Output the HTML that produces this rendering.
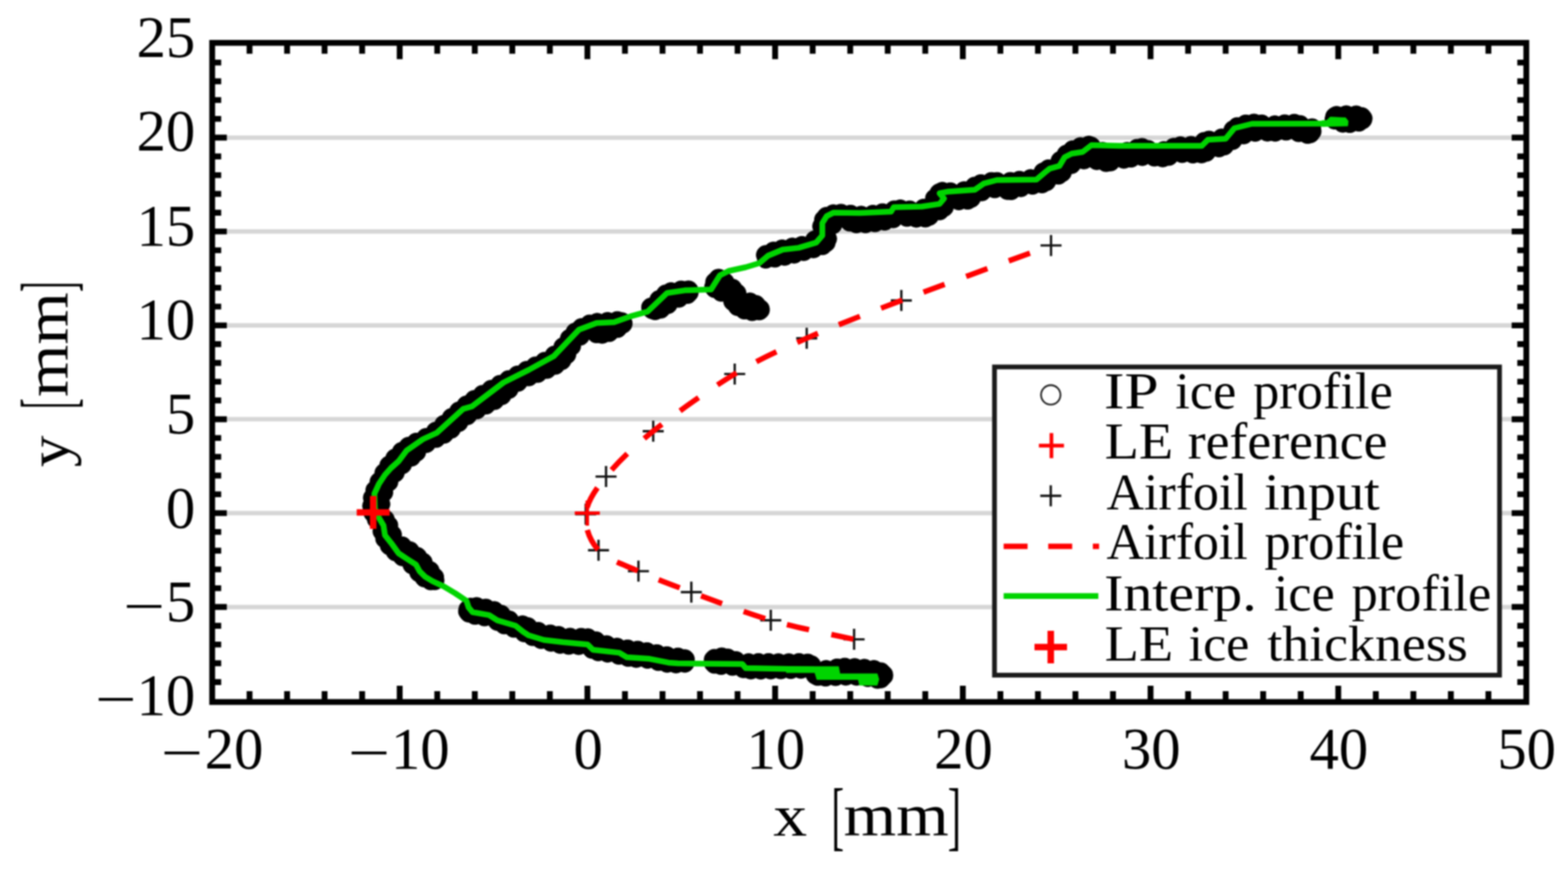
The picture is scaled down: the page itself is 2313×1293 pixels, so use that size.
<!DOCTYPE html><html><head><meta charset="utf-8"><title>Ice profile</title>
<style>html,body{margin:0;padding:0;background:#fff;overflow:hidden;width:2313px;height:1293px;}svg{display:block;filter:blur(0.9px);}text{font-family:"Liberation Serif","DejaVu Serif",serif;fill:#000;}</style></head><body>
<svg width="2313" height="1293" viewBox="0 0 2313 1293">
<rect width="2313" height="1293" fill="#fff"/>
<line x1="313.0" y1="202.9" x2="2251.5" y2="202.9" stroke="#d6d6d6" stroke-width="6.5"/>
<line x1="313.0" y1="341.3" x2="2251.5" y2="341.3" stroke="#d6d6d6" stroke-width="6.5"/>
<line x1="313.0" y1="479.7" x2="2251.5" y2="479.7" stroke="#d6d6d6" stroke-width="6.5"/>
<line x1="313.0" y1="618.1" x2="2251.5" y2="618.1" stroke="#d6d6d6" stroke-width="6.5"/>
<line x1="313.0" y1="756.5" x2="2251.5" y2="756.5" stroke="#d6d6d6" stroke-width="6.5"/>
<line x1="313.0" y1="894.9" x2="2251.5" y2="894.9" stroke="#d6d6d6" stroke-width="6.5"/>
<path d="M651.6,865.1 A15.0,15.0 0 0 1 638.6,869.5 A15.0,15.0 0 0 1 625.3,865.6 A15.0,15.0 0 0 1 613.2,857.0 A15.0,15.0 0 0 1 604.3,845.9 A15.0,15.0 0 0 1 594.3,834.4 A15.0,15.0 0 0 1 581.4,827.0 A15.0,15.0 0 0 1 570.2,817.6 A15.0,15.0 0 0 1 560.8,806.1 A15.0,15.0 0 0 1 554.0,793.1 A15.0,15.0 0 0 1 550.7,778.7 A15.0,15.0 0 0 1 541.7,767.0 A15.0,15.0 0 0 1 537.0,753.5 A15.0,15.0 0 0 1 536.7,738.8 A15.0,15.0 0 0 1 539.6,724.4 A15.0,15.0 0 0 1 545.7,711.0 A15.0,15.0 0 0 1 552.8,697.9 A15.0,15.0 0 0 1 560.1,684.9 A15.0,15.0 0 0 1 569.1,673.1 A15.0,15.0 0 0 1 579.2,662.2 A15.0,15.0 0 0 1 590.1,652.2 A15.0,15.0 0 0 1 602.5,644.4 A15.0,15.0 0 0 1 616.3,638.6 A15.0,15.0 0 0 1 629.6,631.5 A15.0,15.0 0 0 1 641.5,622.2 A15.0,15.0 0 0 1 652.7,612.3 A15.0,15.0 0 0 1 663.7,602.2 A15.0,15.0 0 0 1 675.0,592.5 A15.0,15.0 0 0 1 686.9,583.6 A15.0,15.0 0 0 1 699.4,575.5 A15.0,15.0 0 0 1 712.2,567.9 A15.0,15.0 0 0 1 725.2,560.5 A15.0,15.0 0 0 1 738.2,553.2 A15.0,15.0 0 0 1 751.4,546.2 A15.0,15.0 0 0 1 764.7,539.4 A15.0,15.0 0 0 1 778.0,532.6 A15.0,15.0 0 0 1 791.4,526.0 A15.0,15.0 0 0 1 804.8,519.2 A15.0,15.0 0 0 1 816.9,510.0 A15.0,15.0 0 0 1 826.4,498.3 A15.0,15.0 0 0 1 835.2,486.3 A15.0,15.0 0 0 1 845.8,476.3 A15.0,15.0 0 0 1 858.8,469.5 A15.0,15.0 0 0 1 872.7,464.4 A15.0,15.0 0 0 1 887.5,463.4 A15.0,15.0 0 0 1 902.3,461.9 A15.0,15.0 0 0 1 917.1,460.7 A15.0,15.0 0 0 1 928.8,467.1 A15.0,15.0 0 0 1 932.2,480.5 A15.0,15.0 0 0 1 923.1,490.7 A15.0,15.0 0 0 1 910.1,497.8 A15.0,15.0 0 0 1 896.4,503.7 A15.0,15.0 0 0 1 882.9,505.3 A15.0,15.0 0 0 1 868.7,500.0 A15.0,15.0 0 0 1 856.6,509.3 A15.0,15.0 0 0 1 849.6,522.5 A15.0,15.0 0 0 1 841.9,535.2 A15.0,15.0 0 0 1 831.3,545.0 A15.0,15.0 0 0 1 818.3,552.1 A15.0,15.0 0 0 1 804.6,558.0 A15.0,15.0 0 0 1 790.8,563.9 A15.0,15.0 0 0 1 776.8,568.8 A15.0,15.0 0 0 1 764.1,577.2 A15.0,15.0 0 0 1 753.3,587.5 A15.0,15.0 0 0 1 741.8,596.8 A15.0,15.0 0 0 1 728.9,604.1 A15.0,15.0 0 0 1 715.5,610.7 A15.0,15.0 0 0 1 702.3,617.8 A15.0,15.0 0 0 1 689.9,626.4 A15.0,15.0 0 0 1 678.7,636.4 A15.0,15.0 0 0 1 667.5,646.2 A15.0,15.0 0 0 1 654.9,653.7 A15.0,15.0 0 0 1 641.3,659.8 A15.0,15.0 0 0 1 628.1,667.4 A15.0,15.0 0 0 1 619.4,679.4 A15.0,15.0 0 0 1 607.0,687.5 A15.0,15.0 0 0 1 596.5,698.4 A15.0,15.0 0 0 1 587.2,710.2 A15.0,15.0 0 0 1 579.3,723.1 A15.0,15.0 0 0 1 574.0,737.2 A15.0,15.0 0 0 1 571.8,752.4 A15.0,15.0 0 0 1 581.7,763.5 A15.0,15.0 0 0 1 586.8,777.1 A15.0,15.0 0 0 1 592.1,791.3 A15.0,15.0 0 0 1 605.4,798.4 A15.0,15.0 0 0 1 617.4,807.0 A15.0,15.0 0 0 1 628.7,816.0 A15.0,15.0 0 0 1 637.7,828.0 A15.0,15.0 0 0 1 647.8,838.9 A15.0,15.0 0 0 1 654.6,851.8 A15.0,15.0 0 0 1 651.6,865.1Z" fill="#000" stroke="#000" stroke-width="1" stroke-linejoin="round"/>
<path d="M676.8,897.0 A15.0,15.0 0 0 1 683.8,886.2 A15.0,15.0 0 0 1 697.3,882.1 A15.0,15.0 0 0 1 711.9,883.9 A15.0,15.0 0 0 1 726.4,887.0 A15.0,15.0 0 0 1 740.1,892.1 A15.0,15.0 0 0 1 751.9,900.6 A15.0,15.0 0 0 1 764.2,909.4 A15.0,15.0 0 0 1 779.1,910.4 A15.0,15.0 0 0 1 790.9,917.7 A15.0,15.0 0 0 1 805.1,922.8 A15.0,15.0 0 0 1 820.1,923.9 A15.0,15.0 0 0 1 834.1,927.7 A15.0,15.0 0 0 1 849.2,928.7 A15.0,15.0 0 0 1 863.1,927.4 A15.0,15.0 0 0 1 877.4,931.3 A15.0,15.0 0 0 1 890.8,937.6 A15.0,15.0 0 0 1 905.2,941.6 A15.0,15.0 0 0 1 919.8,944.6 A15.0,15.0 0 0 1 934.7,946.4 A15.0,15.0 0 0 1 949.4,948.2 A15.0,15.0 0 0 1 963.9,951.2 A15.0,15.0 0 0 1 978.6,954.2 A15.0,15.0 0 0 1 993.2,957.0 A15.0,15.0 0 0 1 1008.2,957.8 A15.0,15.0 0 0 1 1020.8,962.6 A15.0,15.0 0 0 1 1023.9,976.0 A15.0,15.0 0 0 1 1018.9,988.2 A15.0,15.0 0 0 1 1004.6,990.2 A15.0,15.0 0 0 1 989.8,990.2 A15.0,15.0 0 0 1 975.3,988.2 A15.0,15.0 0 0 1 960.9,984.3 A15.0,15.0 0 0 1 946.0,982.1 A15.0,15.0 0 0 1 931.1,982.0 A15.0,15.0 0 0 1 917.1,978.9 A15.0,15.0 0 0 1 902.5,975.0 A15.0,15.0 0 0 1 887.7,973.4 A15.0,15.0 0 0 1 873.3,970.9 A15.0,15.0 0 0 1 861.0,963.2 A15.0,15.0 0 0 1 846.0,963.0 A15.0,15.0 0 0 1 831.2,962.6 A15.0,15.0 0 0 1 816.8,959.8 A15.0,15.0 0 0 1 802.4,955.8 A15.0,15.0 0 0 1 788.1,951.9 A15.0,15.0 0 0 1 774.5,946.5 A15.0,15.0 0 0 1 761.3,939.5 A15.0,15.0 0 0 1 747.1,934.5 A15.0,15.0 0 0 1 733.1,929.7 A15.0,15.0 0 0 1 721.1,921.6 A15.0,15.0 0 0 1 705.9,919.8 A15.0,15.0 0 0 1 691.6,917.4 A15.0,15.0 0 0 1 679.6,910.4 A15.0,15.0 0 0 1 676.8,897.0Z" fill="#000" stroke="#000" stroke-width="1" stroke-linejoin="round"/>
<path d="M1038.9,975.0 A15.0,15.0 0 0 1 1043.3,962.1 A15.0,15.0 0 0 1 1056.8,957.4 A15.0,15.0 0 0 1 1071.4,956.7 A15.0,15.0 0 0 1 1083.3,960.6 A15.0,15.0 0 0 1 1096.6,965.9 A15.0,15.0 0 0 1 1111.4,965.5 A15.0,15.0 0 0 1 1126.3,965.5 A15.0,15.0 0 0 1 1141.2,965.5 A15.0,15.0 0 0 1 1155.9,965.9 A15.0,15.0 0 0 1 1170.9,965.7 A15.0,15.0 0 0 1 1185.8,965.3 A15.0,15.0 0 0 1 1199.9,966.9 A15.0,15.0 0 0 1 1210.1,976.4 A15.0,15.0 0 0 1 1225.1,975.2 A15.0,15.0 0 0 1 1239.1,972.0 A15.0,15.0 0 0 1 1253.9,972.5 A15.0,15.0 0 0 1 1268.8,973.3 A15.0,15.0 0 0 1 1283.6,974.7 A15.0,15.0 0 0 1 1298.2,976.9 A15.0,15.0 0 0 1 1310.9,983.0 A15.0,15.0 0 0 1 1317.1,995.0 A15.0,15.0 0 0 1 1311.0,1008.0 A15.0,15.0 0 0 1 1298.8,1014.4 A15.0,15.0 0 0 1 1285.2,1011.6 A15.0,15.0 0 0 1 1270.5,1008.5 A15.0,15.0 0 0 1 1255.5,1008.0 A15.0,15.0 0 0 1 1240.6,1008.4 A15.0,15.0 0 0 1 1225.7,1009.3 A15.0,15.0 0 0 1 1210.9,1010.0 A15.0,15.0 0 0 1 1197.8,1007.9 A15.0,15.0 0 0 1 1189.2,997.9 A15.0,15.0 0 0 1 1174.3,998.3 A15.0,15.0 0 0 1 1159.4,998.8 A15.0,15.0 0 0 1 1144.5,999.0 A15.0,15.0 0 0 1 1129.7,999.2 A15.0,15.0 0 0 1 1114.8,999.3 A15.0,15.0 0 0 1 1100.0,999.0 A15.0,15.0 0 0 1 1086.2,994.8 A15.0,15.0 0 0 1 1071.3,992.4 A15.0,15.0 0 0 1 1056.6,992.7 A15.0,15.0 0 0 1 1043.4,987.9 A15.0,15.0 0 0 1 1038.9,975.0Z" fill="#000" stroke="#000" stroke-width="1" stroke-linejoin="round"/>
<path d="M947.2,448.1 A15.0,15.0 0 0 1 958.6,439.3 A15.0,15.0 0 0 1 969.2,428.5 A15.0,15.0 0 0 1 980.8,419.9 A15.0,15.0 0 0 1 995.3,417.7 A15.0,15.0 0 0 1 1010.0,415.1 A15.0,15.0 0 0 1 1024.1,416.7 A15.0,15.0 0 0 1 1029.9,428.8 A15.0,15.0 0 0 1 1025.7,441.6 A15.0,15.0 0 0 1 1012.7,447.6 A15.0,15.0 0 0 1 998.5,452.9 A15.0,15.0 0 0 1 986.7,462.5 A15.0,15.0 0 0 1 974.1,469.3 A15.0,15.0 0 0 1 959.7,469.9 A15.0,15.0 0 0 1 949.1,461.6 A15.0,15.0 0 0 1 947.2,448.1Z" fill="#000" stroke="#000" stroke-width="1" stroke-linejoin="round"/>
<path d="M1040.8,416.7 A15.0,15.0 0 0 1 1047.6,403.7 A15.0,15.0 0 0 1 1059.9,396.8 A15.0,15.0 0 0 1 1071.3,402.2 A15.0,15.0 0 0 1 1082.2,411.5 A15.0,15.0 0 0 1 1093.3,419.9 A15.0,15.0 0 0 1 1100.6,432.9 A15.0,15.0 0 0 1 1115.7,435.4 A15.0,15.0 0 0 1 1127.6,443.2 A15.0,15.0 0 0 1 1135.1,455.3 A15.0,15.0 0 0 1 1129.7,468.0 A15.0,15.0 0 0 1 1116.2,471.3 A15.0,15.0 0 0 1 1101.2,470.2 A15.0,15.0 0 0 1 1087.3,465.5 A15.0,15.0 0 0 1 1075.2,456.9 A15.0,15.0 0 0 1 1067.4,444.0 A15.0,15.0 0 0 1 1052.9,438.9 A15.0,15.0 0 0 1 1041.8,431.0 A15.0,15.0 0 0 1 1040.8,416.7Z" fill="#000" stroke="#000" stroke-width="1" stroke-linejoin="round"/>
<path d="M1117.7,368.6 A15.0,15.0 0 0 1 1130.2,361.7 A15.0,15.0 0 0 1 1144.4,357.1 A15.0,15.0 0 0 1 1159.2,354.6 A15.0,15.0 0 0 1 1173.9,351.7 A15.0,15.0 0 0 1 1188.7,349.6 A15.0,15.0 0 0 1 1200.3,340.2 A15.0,15.0 0 0 1 1201.4,325.1 A15.0,15.0 0 0 1 1206.9,312.7 A15.0,15.0 0 0 1 1219.8,305.4 A15.0,15.0 0 0 1 1234.0,302.5 A15.0,15.0 0 0 1 1248.9,303.6 A15.0,15.0 0 0 1 1263.7,305.5 A15.0,15.0 0 0 1 1278.1,306.2 A15.0,15.0 0 0 1 1292.8,303.4 A15.0,15.0 0 0 1 1307.8,301.5 A15.0,15.0 0 0 1 1321.6,296.1 A15.0,15.0 0 0 1 1336.3,297.2 A15.0,15.0 0 0 1 1351.1,299.4 A15.0,15.0 0 0 1 1365.0,293.7 A15.0,15.0 0 0 1 1372.2,280.4 A15.0,15.0 0 0 1 1381.9,271.2 A15.0,15.0 0 0 1 1396.7,270.3 A15.0,15.0 0 0 1 1411.3,272.8 A15.0,15.0 0 0 1 1425.6,268.1 A15.0,15.0 0 0 1 1437.6,260.9 A15.0,15.0 0 0 1 1452.4,258.4 A15.0,15.0 0 0 1 1466.6,254.7 A15.0,15.0 0 0 1 1480.5,258.1 A15.0,15.0 0 0 1 1495.5,255.0 A15.0,15.0 0 0 1 1510.4,253.9 A15.0,15.0 0 0 1 1525.4,250.8 A15.0,15.0 0 0 1 1536.0,240.3 A15.0,15.0 0 0 1 1550.3,235.9 A15.0,15.0 0 0 1 1559.7,223.8 A15.0,15.0 0 0 1 1570.4,214.0 A15.0,15.0 0 0 1 1583.5,207.3 A15.0,15.0 0 0 1 1597.8,203.3 A15.0,15.0 0 0 1 1612.2,202.0 A15.0,15.0 0 0 1 1622.3,210.2 A15.0,15.0 0 0 1 1637.0,214.6 A15.0,15.0 0 0 1 1652.0,214.6 A15.0,15.0 0 0 1 1666.7,210.2 A15.0,15.0 0 0 1 1678.7,205.2 A15.0,15.0 0 0 1 1693.3,206.9 A15.0,15.0 0 0 1 1705.9,214.0 A15.0,15.0 0 0 1 1720.4,209.0 A15.0,15.0 0 0 1 1733.6,203.8 A15.0,15.0 0 0 1 1748.6,203.6 A15.0,15.0 0 0 1 1763.8,202.7 A15.0,15.0 0 0 1 1776.4,195.0 A15.0,15.0 0 0 1 1791.1,195.3 A15.0,15.0 0 0 1 1805.3,190.2 A15.0,15.0 0 0 1 1814.1,178.7 A15.0,15.0 0 0 1 1827.8,173.4 A15.0,15.0 0 0 1 1842.4,170.1 A15.0,15.0 0 0 1 1856.9,169.9 A15.0,15.0 0 0 1 1871.5,173.8 A15.0,15.0 0 0 1 1886.6,172.0 A15.0,15.0 0 0 1 1901.5,170.6 A15.0,15.0 0 0 1 1916.4,170.2 A15.0,15.0 0 0 1 1929.4,176.3 A15.0,15.0 0 0 1 1944.4,178.1 A15.0,15.0 0 0 1 1948.3,189.3 A15.0,15.0 0 0 1 1945.1,203.3 A15.0,15.0 0 0 1 1934.1,210.7 A15.0,15.0 0 0 1 1919.9,208.5 A15.0,15.0 0 0 1 1905.2,204.2 A15.0,15.0 0 0 1 1890.1,205.0 A15.0,15.0 0 0 1 1875.1,207.1 A15.0,15.0 0 0 1 1860.7,205.1 A15.0,15.0 0 0 1 1845.5,207.2 A15.0,15.0 0 0 1 1831.1,211.9 A15.0,15.0 0 0 1 1818.6,220.7 A15.0,15.0 0 0 1 1806.5,228.7 A15.0,15.0 0 0 1 1791.9,230.1 A15.0,15.0 0 0 1 1780.1,238.1 A15.0,15.0 0 0 1 1766.2,238.9 A15.0,15.0 0 0 1 1751.2,237.8 A15.0,15.0 0 0 1 1736.0,237.5 A15.0,15.0 0 0 1 1722.7,244.0 A15.0,15.0 0 0 1 1707.9,244.2 A15.0,15.0 0 0 1 1693.4,241.4 A15.0,15.0 0 0 1 1678.3,242.6 A15.0,15.0 0 0 1 1665.1,246.3 A15.0,15.0 0 0 1 1649.8,245.7 A15.0,15.0 0 0 1 1636.7,252.2 A15.0,15.0 0 0 1 1622.3,249.6 A15.0,15.0 0 0 1 1607.9,246.1 A15.0,15.0 0 0 1 1593.1,247.9 A15.0,15.0 0 0 1 1580.4,256.2 A15.0,15.0 0 0 1 1571.6,267.2 A15.0,15.0 0 0 1 1557.0,271.1 A15.0,15.0 0 0 1 1546.2,281.2 A15.0,15.0 0 0 1 1531.8,283.6 A15.0,15.0 0 0 1 1516.7,285.1 A15.0,15.0 0 0 1 1502.2,289.7 A15.0,15.0 0 0 1 1488.1,294.2 A15.0,15.0 0 0 1 1475.4,289.3 A15.0,15.0 0 0 1 1460.0,289.8 A15.0,15.0 0 0 1 1445.9,296.1 A15.0,15.0 0 0 1 1436.3,305.5 A15.0,15.0 0 0 1 1421.7,307.5 A15.0,15.0 0 0 1 1406.4,307.1 A15.0,15.0 0 0 1 1397.5,318.5 A15.0,15.0 0 0 1 1383.5,324.1 A15.0,15.0 0 0 1 1373.4,332.2 A15.0,15.0 0 0 1 1358.5,333.4 A15.0,15.0 0 0 1 1343.7,332.7 A15.0,15.0 0 0 1 1328.7,330.6 A15.0,15.0 0 0 1 1314.5,335.8 A15.0,15.0 0 0 1 1299.8,338.6 A15.0,15.0 0 0 1 1285.0,340.7 A15.0,15.0 0 0 1 1270.1,341.7 A15.0,15.0 0 0 1 1255.3,340.9 A15.0,15.0 0 0 1 1241.8,334.4 A15.0,15.0 0 0 1 1232.1,344.5 A15.0,15.0 0 0 1 1232.1,359.5 A15.0,15.0 0 0 1 1224.3,370.3 A15.0,15.0 0 0 1 1210.5,375.5 A15.0,15.0 0 0 1 1196.0,379.7 A15.0,15.0 0 0 1 1181.6,383.8 A15.0,15.0 0 0 1 1167.1,387.5 A15.0,15.0 0 0 1 1152.4,390.4 A15.0,15.0 0 0 1 1137.6,393.0 A15.0,15.0 0 0 1 1123.2,394.1 A15.0,15.0 0 0 1 1117.1,382.3 A15.0,15.0 0 0 1 1117.7,368.6Z" fill="#000" stroke="#000" stroke-width="1" stroke-linejoin="round"/>
<path d="M1955.3,170.8 A15.0,15.0 0 0 1 1963.0,159.6 A15.0,15.0 0 0 1 1978.0,158.2 A15.0,15.0 0 0 1 1993.3,157.9 A15.0,15.0 0 0 1 2008.5,158.4 A15.0,15.0 0 0 1 2020.6,165.2 A15.0,15.0 0 0 1 2023.5,179.1 A15.0,15.0 0 0 1 2014.5,189.4 A15.0,15.0 0 0 1 1999.7,192.8 A15.0,15.0 0 0 1 1985.4,194.4 A15.0,15.0 0 0 1 1970.4,190.5 A15.0,15.0 0 0 1 1957.4,184.6 A15.0,15.0 0 0 1 1955.3,170.8Z" fill="#000" stroke="#000" stroke-width="1" stroke-linejoin="round"/>
<path d="M1244.4,942.6H1275.4M1259.9,927.1V958.1" stroke="#111" stroke-width="3.4" fill="none"/>
<path d="M1121.5,914.5H1152.5M1137.0,899.0V930.0" stroke="#111" stroke-width="3.4" fill="none"/>
<path d="M1004.3,873.0H1035.3M1019.8,857.5V888.5" stroke="#111" stroke-width="3.4" fill="none"/>
<path d="M926.3,842.1H957.3M941.8,826.6V857.6" stroke="#111" stroke-width="3.4" fill="none"/>
<path d="M867.4,811.2H898.4M882.9,795.7V826.7" stroke="#111" stroke-width="3.4" fill="none"/>
<path d="M848.5,758.0H879.5M864.0,742.5V773.5" stroke="#111" stroke-width="3.4" fill="none"/>
<path d="M878.5,702.6H909.5M894.0,687.1V718.1" stroke="#111" stroke-width="3.4" fill="none"/>
<path d="M948.1,635.7H979.1M963.6,620.2V651.2" stroke="#111" stroke-width="3.4" fill="none"/>
<path d="M1068.3,551.4H1099.3M1083.8,535.9V566.9" stroke="#111" stroke-width="3.4" fill="none"/>
<path d="M1174.5,498.7H1205.5M1190.0,483.2V514.2" stroke="#111" stroke-width="3.4" fill="none"/>
<path d="M1314.1,443.0H1345.1M1329.6,427.5V458.5" stroke="#111" stroke-width="3.4" fill="none"/>
<path d="M1534.9,361.9H1565.9M1550.4,346.4V377.4" stroke="#111" stroke-width="3.4" fill="none"/>
<path d="M847.8,756.5H884.8M866.3,738.0V775.0" stroke="#ff0000" stroke-width="5.2" fill="none"/>
<path d="M1259.9,942.6 C1239.4,937.9 1177.0,926.1 1137.0,914.5 C1097.0,902.9 1052.3,885.1 1019.8,873.0 C987.3,860.9 964.6,852.4 941.8,842.1 C919.0,831.8 895.9,825.2 882.9,811.2 C869.9,797.2 862.1,776.1 864.0,758.0 C865.9,739.9 877.4,723.0 894.0,702.6 C910.6,682.2 932.0,660.9 963.6,635.7 C995.2,610.5 1046.1,574.2 1083.8,551.4 C1121.5,528.6 1149.0,516.8 1190.0,498.7 C1231.0,480.6 1269.5,465.8 1329.6,443.0 C1389.7,420.2 1513.6,375.4 1550.4,361.9" stroke="#ff0000" stroke-width="8" fill="none" stroke-dasharray="33.3 33.55" stroke-dashoffset="-1.2" stroke-linecap="butt"/>
<polyline points="1201.0,987.0 1100.0,985.0 1095.0,979.0 1000.0,978.0 986.0,976.9 958.2,971.3 924.8,969.1 913.6,962.4 874.7,958.0 866.9,950.2 830.1,946.8 802.3,943.5 780.0,936.8 771.6,931.4 760.5,922.5 733.7,914.7 721.5,906.9 697.0,902.5 691.4,895.8 688.1,885.8 671.4,874.6 654.7,864.6 638.0,856.8 626.8,850.1 619.0,842.3 613.5,832.3 601.2,824.5 587.8,815.6 576.8,800.3 567.9,789.1 565.7,774.7 559.0,763.5 553.0,750.0 552.3,727.9 559.0,713.4 567.9,700.0 576.8,690.0 588.0,680.0 599.8,664.2 623.9,647.5 644.4,638.2 683.3,602.9 696.3,599.2 742.7,564.0 779.9,545.4 817.0,525.0 854.1,486.0 880.0,476.2 906.0,474.9 932.0,465.8 955.4,459.3 984.0,432.0 1010.0,428.1 1048.9,426.8 1061.9,406.0 1074.9,399.5 1100.0,394.0 1120.0,388.0 1133.0,377.0 1154.6,368.0 1178.0,365.4 1204.0,357.6 1213.0,347.2 1213.0,329.0 1219.5,318.6 1229.9,313.4 1268.9,314.0 1314.4,312.1 1318.3,305.6 1360.0,304.5 1386.0,300.6 1392.5,292.8 1386.0,285.0 1399.0,282.4 1438.0,279.8 1451.0,270.7 1470.4,265.5 1528.9,264.8 1541.9,253.8 1548.4,248.6 1562.7,244.7 1570.5,231.7 1580.9,226.5 1597.0,224.0 1610.0,214.0 1652.0,215.0 1772.8,215.0 1781.9,205.9 1807.9,204.6 1820.9,189.0 1846.9,182.5 1955.0,182.2" stroke="#00d400" stroke-width="8.5" fill="none" stroke-linejoin="round" stroke-linecap="butt"/>
<polygon points="1950.0,177.8 1957.0,177.6 1962.0,172.6 1985.0,173.6 1988.8,178.5 1988.0,185.8 1950.0,186.6" fill="#00d400" stroke="#00d400" stroke-width="0.8" stroke-linejoin="round"/>
<polygon points="1160.0,982.8 1237.0,982.8 1239.0,993.3 1294.0,993.3 1296.5,1001.5 1294.0,1010.2 1268.0,1010.2 1266.0,1001.9 1205.0,1001.9 1202.0,991.8 1160.0,991.8" fill="#00d400" stroke="#00d400" stroke-width="0.8" stroke-linejoin="round"/>
<path d="M526.2,755.5H574.8M550.5,731.2V779.8" stroke="#ff0000" stroke-width="9.6" fill="none"/>
<path d="M368.1,1035.0V1019.0M368.1,63.2V79.2M423.5,1035.0V1019.0M423.5,63.2V79.2M478.8,1035.0V1019.0M478.8,63.2V79.2M534.2,1035.0V1019.0M534.2,63.2V79.2M589.6,1035.0V1011.0M589.6,63.2V87.2M645.0,1035.0V1019.0M645.0,63.2V79.2M700.4,1035.0V1019.0M700.4,63.2V79.2M755.7,1035.0V1019.0M755.7,63.2V79.2M811.1,1035.0V1019.0M811.1,63.2V79.2M866.5,1035.0V1011.0M866.5,63.2V87.2M921.9,1035.0V1019.0M921.9,63.2V79.2M977.3,1035.0V1019.0M977.3,63.2V79.2M1032.6,1035.0V1019.0M1032.6,63.2V79.2M1088.0,1035.0V1019.0M1088.0,63.2V79.2M1143.4,1035.0V1011.0M1143.4,63.2V87.2M1198.8,1035.0V1019.0M1198.8,63.2V79.2M1254.2,1035.0V1019.0M1254.2,63.2V79.2M1309.5,1035.0V1019.0M1309.5,63.2V79.2M1364.9,1035.0V1019.0M1364.9,63.2V79.2M1420.3,1035.0V1011.0M1420.3,63.2V87.2M1475.7,1035.0V1019.0M1475.7,63.2V79.2M1531.1,1035.0V1019.0M1531.1,63.2V79.2M1586.4,1035.0V1019.0M1586.4,63.2V79.2M1641.8,1035.0V1019.0M1641.8,63.2V79.2M1697.2,1035.0V1011.0M1697.2,63.2V87.2M1752.6,1035.0V1019.0M1752.6,63.2V79.2M1808.0,1035.0V1019.0M1808.0,63.2V79.2M1863.3,1035.0V1019.0M1863.3,63.2V79.2M1918.7,1035.0V1019.0M1918.7,63.2V79.2M1974.1,1035.0V1011.0M1974.1,63.2V87.2M2029.5,1035.0V1019.0M2029.5,63.2V79.2M2084.9,1035.0V1019.0M2084.9,63.2V79.2M2140.2,1035.0V1019.0M2140.2,63.2V79.2M2195.6,1035.0V1019.0M2195.6,63.2V79.2M313.0,1005.6H326.3M2251.5,1005.6H2238.2M313.0,977.9H326.3M2251.5,977.9H2238.2M313.0,950.3H326.3M2251.5,950.3H2238.2M313.0,922.6H326.3M2251.5,922.6H2238.2M313.0,894.9H334.6M2251.5,894.9H2229.9M313.0,867.2H326.3M2251.5,867.2H2238.2M313.0,839.5H326.3M2251.5,839.5H2238.2M313.0,811.9H326.3M2251.5,811.9H2238.2M313.0,784.2H326.3M2251.5,784.2H2238.2M313.0,756.5H334.6M2251.5,756.5H2229.9M313.0,728.8H326.3M2251.5,728.8H2238.2M313.0,701.1H326.3M2251.5,701.1H2238.2M313.0,673.5H326.3M2251.5,673.5H2238.2M313.0,645.8H326.3M2251.5,645.8H2238.2M313.0,618.1H334.6M2251.5,618.1H2229.9M313.0,590.4H326.3M2251.5,590.4H2238.2M313.0,562.7H326.3M2251.5,562.7H2238.2M313.0,535.1H326.3M2251.5,535.1H2238.2M313.0,507.4H326.3M2251.5,507.4H2238.2M313.0,479.7H334.6M2251.5,479.7H2229.9M313.0,452.0H326.3M2251.5,452.0H2238.2M313.0,424.3H326.3M2251.5,424.3H2238.2M313.0,396.7H326.3M2251.5,396.7H2238.2M313.0,369.0H326.3M2251.5,369.0H2238.2M313.0,341.3H334.6M2251.5,341.3H2229.9M313.0,313.6H326.3M2251.5,313.6H2238.2M313.0,285.9H326.3M2251.5,285.9H2238.2M313.0,258.3H326.3M2251.5,258.3H2238.2M313.0,230.6H326.3M2251.5,230.6H2238.2M313.0,202.9H334.6M2251.5,202.9H2229.9M313.0,175.2H326.3M2251.5,175.2H2238.2M313.0,147.5H326.3M2251.5,147.5H2238.2M313.0,119.9H326.3M2251.5,119.9H2238.2M313.0,92.2H326.3M2251.5,92.2H2238.2" stroke="#000" stroke-width="8.6" fill="none"/>
<rect x="313.0" y="63.2" width="1938.5" height="971.8" fill="none" stroke="#000" stroke-width="8.6"/>
<rect x="1467.0" y="541.0" width="745.0" height="454.4" fill="#fff" stroke="#1a1a1a" stroke-width="7"/>
<circle cx="1550" cy="582.2" r="14.3" fill="none" stroke="#222" stroke-width="2.6"/>
<path d="M1532.5,657.0H1569.5M1551.0,638.5V675.5" stroke="#ff0000" stroke-width="5.4" fill="none"/>
<path d="M1534.5,731.0H1565.5M1550.0,715.5V746.5" stroke="#111" stroke-width="3.4" fill="none"/>
<line x1="1480.5" y1="805.5" x2="1621.3" y2="805.5" stroke="#ff0000" stroke-width="8" stroke-dasharray="35.3 30.5"/>
<line x1="1480.5" y1="878.7" x2="1620.2" y2="878.7" stroke="#00d400" stroke-width="8.5"/>
<path d="M1526.0,954.0H1574.0M1550.0,930.0V978.0" stroke="#ff0000" stroke-width="9.6" fill="none"/>
<text transform="translate(1628.53,601.70) scale(0.9067,0.7645)" font-size="100">IP</text>
<text transform="translate(1733.86,601.70) scale(0.7694,0.7645)" font-size="100">ice</text>
<text transform="translate(1848.44,601.70) scale(0.7729,0.7645)" font-size="100">profile</text>
<text transform="translate(1629.42,676.20) scale(0.8289,0.7546)" font-size="100">LE</text>
<text transform="translate(1752.01,676.20) scale(0.7926,0.7546)" font-size="100">reference</text>
<text transform="translate(1632.23,751.40) scale(0.7658,0.7546)" font-size="100">Airfoil</text>
<text transform="translate(1864.74,751.40) scale(0.8305,0.7546)" font-size="100">input</text>
<text transform="translate(1632.23,823.60) scale(0.7658,0.7546)" font-size="100">Airfoil</text>
<text transform="translate(1865.24,823.60) scale(0.7733,0.7546)" font-size="100">profile</text>
<text transform="translate(1628.71,900.00) scale(0.8536,0.7532)" font-size="100">Interp.</text>
<text transform="translate(1879.16,900.00) scale(0.7694,0.7532)" font-size="100">ice</text>
<text transform="translate(1993.64,900.00) scale(0.7733,0.7532)" font-size="100">profile</text>
<text transform="translate(1629.42,974.00) scale(0.8289,0.7489)" font-size="100">LE</text>
<text transform="translate(1753.36,974.00) scale(0.7694,0.7489)" font-size="100">ice</text>
<text transform="translate(1869.51,974.00) scale(0.7943,0.7489)" font-size="100">thickness</text>
<text x="867.5" y="1132.5" font-size="86.5" text-anchor="middle">0</text>
<text x="1144.4" y="1132.5" font-size="86.5" text-anchor="middle">10</text>
<text x="1421.3" y="1132.5" font-size="86.5" text-anchor="middle">20</text>
<text x="1698.2" y="1132.5" font-size="86.5" text-anchor="middle">30</text>
<text x="1975.1" y="1132.5" font-size="86.5" text-anchor="middle">40</text>
<text x="2252.0" y="1132.5" font-size="86.5" text-anchor="middle">50</text>
<text x="388.5" y="1132.5" font-size="86.5" text-anchor="end">20</text>
<text x="237.4" y="1138.7" font-size="86.5" textLength="62.3" lengthAdjust="spacingAndGlyphs">−</text>
<text x="663.3" y="1132.5" font-size="86.5" text-anchor="end">10</text>
<text x="513.4" y="1138.7" font-size="86.5" textLength="62.3" lengthAdjust="spacingAndGlyphs">−</text>
<text x="288.0" y="1054.3" font-size="86.5" text-anchor="end">10</text>
<text x="288.0" y="915.9" font-size="86.5" text-anchor="end">5</text>
<text x="288.0" y="777.5" font-size="86.5" text-anchor="end">0</text>
<text x="288.0" y="639.1" font-size="86.5" text-anchor="end">5</text>
<text x="288.0" y="500.3" font-size="86.5" text-anchor="end">10</text>
<text x="288.0" y="361.6" font-size="86.5" text-anchor="end">15</text>
<text x="288.0" y="221.9" font-size="86.5" text-anchor="end">20</text>
<text x="288.0" y="84.2" font-size="86.5" text-anchor="end">25</text>
<text x="181.9" y="922.8" font-size="86.5" textLength="61.7" lengthAdjust="spacingAndGlyphs">−</text>
<text x="140.5" y="1060.0" font-size="86.5" textLength="61.1" lengthAdjust="spacingAndGlyphs">−</text>
<text transform="translate(1140.65,1232.00) scale(0.9958,0.8717)" font-size="100">x</text>
<text transform="translate(1226.52,1239.72) scale(0.5573,1.1169)" font-size="100">[</text>
<text transform="translate(1244.61,1232.00) scale(0.9961,0.8830)" font-size="100">mm</text>
<text transform="translate(1397.93,1239.72) scale(0.5911,1.1169)" font-size="100">]</text>
<text transform="rotate(-90) translate(-688.86,100.94) scale(0.9320,0.8770)" font-size="100">y</text>
<text transform="rotate(-90) translate(-603.01,107.10) scale(0.4674,1.1036)" font-size="100">[</text>
<text transform="rotate(-90) translate(-585.28,100.40) scale(0.9921,0.9085)" font-size="100">mm</text>
<text transform="rotate(-90) translate(-430.62,107.10) scale(0.4622,1.1036)" font-size="100">]</text>
</svg></body></html>
